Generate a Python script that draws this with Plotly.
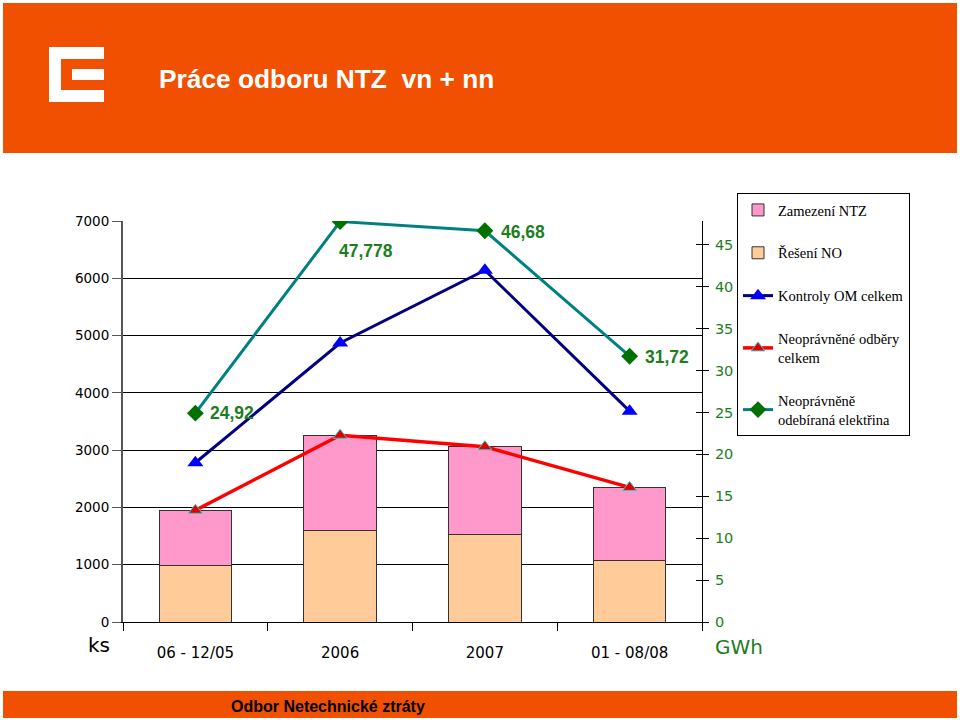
import plotly.graph_objects as go

categories = ["06 - 12/05", "2006", "2007", "01 - 08/08"]
reseni_no = [980, 1590, 1535, 1080]
zamezeni_ntz = [960, 1660, 1520, 1260]
kontroly_om = [2780, 4870, 6140, 3680]
neopr_odbery = [1950, 3260, 3060, 2350]
neopr_elektrina = [24.92, 47.778, 46.68, 31.72]
elektrina_labels = ["24,92", "47,778", "46,68", "31,72"]
left_ticks = [0, 1000, 2000, 3000, 4000, 5000, 6000, 7000]
right_ticks = [0, 5, 10, 15, 20, 25, 30, 35, 40, 45]

# label offsets (pixels) relative to each point
label_xshift = [13, -3, 14, 13]
label_yshift = [0, -29, -1, -1]

W, H = 960, 720
L, R, T, B = 123, 702, 221, 622
ORANGE = "#F05000"
GREEN = "#1E7D1E"


def px_x(x):
    return (x - L) / (R - L)


def px_y(y):
    return (B - y) / (B - T)


fig = go.Figure()

fig.add_trace(go.Bar(x=categories, y=reseni_no, name="Řešení NO",
                     marker=dict(color="#FFCC99", line=dict(color="#333333", width=1)),
                     width=0.5, legendrank=2, legendgroup="b"))
fig.add_trace(go.Bar(x=categories, y=zamezeni_ntz, name="Zamezení NTZ",
                     marker=dict(color="#FF99CC", line=dict(color="#333333", width=1)),
                     width=0.5, legendrank=1, legendgroup="a"))
fig.add_trace(go.Scatter(x=categories, y=kontroly_om, name="Kontroly OM celkem",
                         mode="lines+markers",
                         line=dict(color="#000080", width=3),
                         marker=dict(symbol="triangle-up", size=14, color="#0000FF"),
                         legendrank=3, legendgroup="c"))
fig.add_trace(go.Scatter(x=categories, y=neopr_odbery, name="Neoprávněné odběry<br>celkem",
                         mode="lines+markers",
                         line=dict(color="#FF0000", width=3.5),
                         marker=dict(symbol="triangle-up", size=12, color="#E00000",
                                     line=dict(color="#33CCCC", width=1)),
                         legendrank=4, legendgroup="d"))
fig.add_trace(go.Scatter(x=categories, y=neopr_elektrina, name="Neoprávněně<br>odebíraná elektřina",
                         mode="lines+markers", yaxis="y2",
                         line=dict(color="#008080", width=3),
                         marker=dict(symbol="diamond", size=13, color="#007000"),
                         legendrank=5, legendgroup="e"))
# invisible trace to activate yaxis3 (inner half of the crossing ticks)
fig.add_trace(go.Scatter(x=categories, y=[None] * 4, yaxis="y3", showlegend=False,
                         hoverinfo="skip"))

fig.update_layout(
    width=W, height=H,
    margin=dict(l=L, r=W - R, t=T, b=H - B, autoexpand=False),
    paper_bgcolor="white", plot_bgcolor="white",
    barmode="stack", bargap=0.5,
    showlegend=True,
    legend=dict(x=px_x(737), y=px_y(193), xanchor="left", yanchor="top",
                bordercolor="black", borderwidth=1, bgcolor="white",
                font=dict(family="Liberation Serif, Times New Roman", size=14.5, color="black"),
                tracegroupgap=21, traceorder="grouped", itemwidth=30),
    xaxis=dict(type="category", categoryorder="array", categoryarray=categories,
               range=[-0.5, len(categories) - 0.5],
               showline=True, linecolor="black", linewidth=1, ticks="outside",
               tickson="boundaries", ticklen=8, tickcolor="black", ticklabelstandoff=17,
               tickangle=0, automargin=False,
               tickfont=dict(family="DejaVu Sans", size=15, color="black"),
               showgrid=False, zeroline=False),
    yaxis=dict(range=[0, 7000], tickvals=left_ticks, showline=True, linecolor="#555555",
               linewidth=2, ticks="outside", ticklen=9, tickcolor="#555555",
               showgrid=True, gridcolor="black", gridwidth=1, zeroline=False,
               automargin=False,
               tickfont=dict(family="DejaVu Sans", size=13.5, color="black")),
    yaxis2=dict(range=[0, 47.85], tickvals=right_ticks, overlaying="y", side="right",
                showline=True, linecolor="black", linewidth=1, ticks="outside",
                ticklen=6, tickcolor="black", showgrid=False, zeroline=False,
                ticklabelstandoff=3, automargin=False,
                tickfont=dict(family="DejaVu Sans", size=14.5, color=GREEN)),
    yaxis3=dict(range=[0, 47.85], tickvals=right_ticks, overlaying="y", side="right",
                showline=False, ticks="inside", ticklen=6, tickcolor="black",
                showticklabels=False, showgrid=False, zeroline=False, automargin=False),
)

# data labels of the GWh series (category axis -> use category index)
for i, (val, lab, dx, dy) in enumerate(zip(neopr_elektrina, elektrina_labels,
                                           label_xshift, label_yshift)):
    fig.add_annotation(x=i, y=val, xref="x", yref="y2", text=f"<b>{lab}</b>",
                       showarrow=False, xanchor="left", yanchor="middle",
                       xshift=dx, yshift=dy,
                       font=dict(family="Liberation Sans, Arial", size=17.5, color=GREEN))

shapes = [
    dict(type="rect", xref="paper", yref="paper", x0=px_x(3), x1=px_x(957),
         y0=px_y(153), y1=px_y(3), fillcolor=ORANGE, line=dict(width=0), layer="below"),
    dict(type="rect", xref="paper", yref="paper", x0=px_x(3), x1=px_x(957),
         y0=px_y(718), y1=px_y(691), fillcolor=ORANGE, line=dict(width=0), layer="below"),
]
# logo (white E shape)
for (x0, y0, x1, y1) in [(49, 47, 61, 102), (49, 47, 104, 59), (49, 90, 104, 102), (72, 69, 104, 80)]:
    shapes.append(dict(type="rect", xref="paper", yref="paper",
                       x0=px_x(x0), x1=px_x(x1), y0=px_y(y1), y1=px_y(y0),
                       fillcolor="white", line=dict(width=0)))
fig.update_layout(shapes=shapes)

fig.add_annotation(x=px_x(157), y=px_y(79), xref="paper", yref="paper", xanchor="left",
                   yanchor="middle", showarrow=False, text="<b>Práce odboru NTZ  vn + nn</b>",
                   font=dict(family="Liberation Sans, Arial", size=26.3, color="white"))
fig.add_annotation(x=px_x(328), y=px_y(706), xref="paper", yref="paper", xanchor="center",
                   yanchor="middle", showarrow=False, text="<b>Odbor Netechnické ztráty</b>",
                   font=dict(family="Liberation Sans Narrow, Liberation Sans, Arial", size=16,
                             color="black"))
fig.add_annotation(x=px_x(99), y=px_y(645), xref="paper", yref="paper", xanchor="center",
                   yanchor="middle", showarrow=False, text="ks",
                   font=dict(family="DejaVu Sans", size=20, color="black"))
fig.add_annotation(x=px_x(739), y=px_y(647), xref="paper", yref="paper", xanchor="center",
                   yanchor="middle", showarrow=False, text="GWh",
                   font=dict(family="DejaVu Sans", size=20, color=GREEN))

fig.write_html("out.html")
